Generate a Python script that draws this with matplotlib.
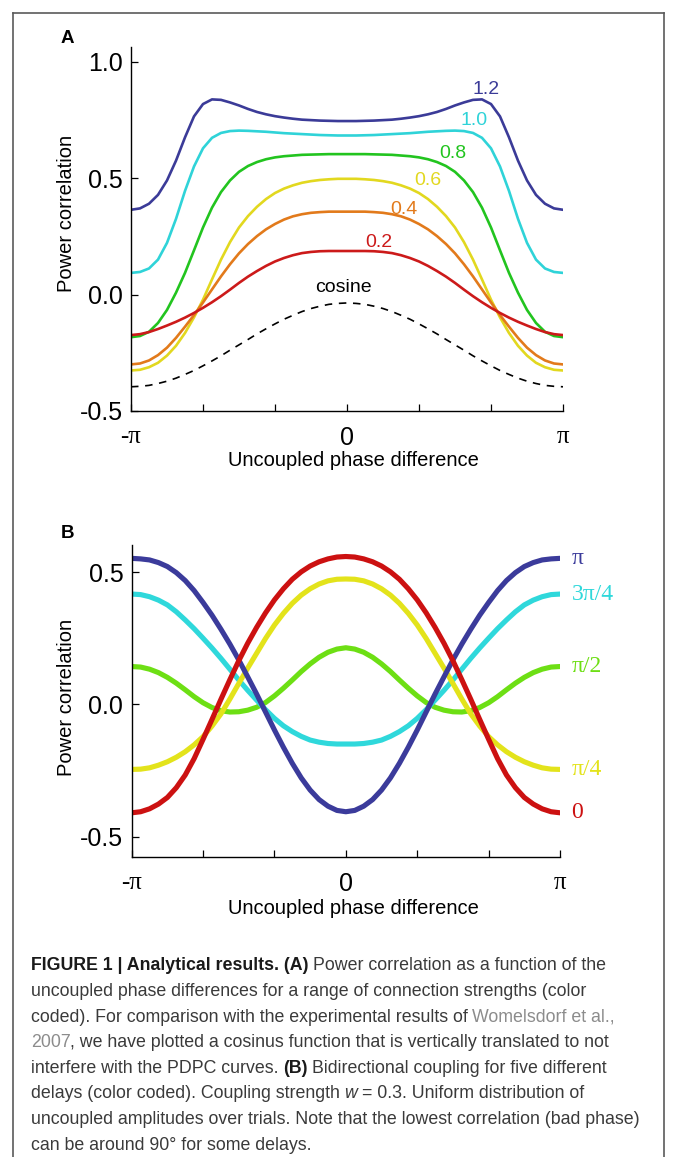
import numpy as np
import matplotlib
matplotlib.use("Agg")
import matplotlib.pyplot as plt
from matplotlib import font_manager as fm
from matplotlib.lines import Line2D
from matplotlib.transforms import offset_copy

W, H, DPI = 673, 1157, 100

# ---------------- data ----------------
phase = np.linspace(-np.pi, np.pi, 49)   # sample positions, -pi .. pi in pi/24 steps

# Panel A: power correlation for different connection strengths
strength_labels = ["1.2", "1.0", "0.8", "0.6", "0.4", "0.2"]
pc_w12 = [0.364, 0.370, 0.390, 0.428, 0.490, 0.575, 0.675, 0.765, 0.818, 0.838, 0.836, 0.825, 0.812,
          0.797, 0.784, 0.774, 0.766, 0.760, 0.755, 0.751, 0.749, 0.747, 0.746, 0.745, 0.745,
          0.745, 0.746, 0.747, 0.749, 0.751, 0.755, 0.760, 0.766, 0.774, 0.784, 0.797, 0.812,
          0.825, 0.836, 0.838, 0.818, 0.765, 0.675, 0.575, 0.490, 0.428, 0.390, 0.370, 0.364]
pc_w10 = [0.093, 0.097, 0.112, 0.150, 0.222, 0.325, 0.445, 0.550, 0.628, 0.673, 0.694, 0.702, 0.704,
          0.703, 0.701, 0.699, 0.696, 0.693, 0.691, 0.689, 0.687, 0.685, 0.684, 0.683, 0.683,
          0.683, 0.684, 0.685, 0.687, 0.689, 0.691, 0.693, 0.696, 0.699, 0.701, 0.703, 0.704,
          0.702, 0.694, 0.673, 0.628, 0.550, 0.445, 0.325, 0.222, 0.150, 0.112, 0.097, 0.093]
pc_w08 = [-0.183, -0.178, -0.160, -0.122, -0.066, 0.008, 0.093, 0.190, 0.288, 0.373, 0.440, 0.490, 0.527,
          0.552, 0.569, 0.581, 0.589, 0.594, 0.597, 0.600, 0.601, 0.602, 0.603, 0.603, 0.603,
          0.603, 0.603, 0.602, 0.601, 0.600, 0.597, 0.594, 0.589, 0.581, 0.569, 0.552, 0.527,
          0.490, 0.440, 0.373, 0.288, 0.190, 0.093, 0.008, -0.066, -0.122, -0.160, -0.178, -0.183]
pc_w06 = [-0.326, -0.323, -0.312, -0.293, -0.262, -0.220, -0.165, -0.098, -0.022, 0.065, 0.150, 0.225, 0.288,
          0.337, 0.377, 0.410, 0.436, 0.455, 0.469, 0.480, 0.487, 0.492, 0.495, 0.497, 0.497,
          0.497, 0.495, 0.492, 0.487, 0.480, 0.469, 0.455, 0.436, 0.410, 0.377, 0.337, 0.288,
          0.225, 0.150, 0.065, -0.022, -0.098, -0.165, -0.220, -0.262, -0.293, -0.312, -0.323, -0.326]
pc_w04 = [-0.300, -0.296, -0.283, -0.260, -0.228, -0.186, -0.138, -0.088, -0.034, 0.022, 0.078, 0.130, 0.177,
          0.217, 0.251, 0.280, 0.303, 0.322, 0.336, 0.345, 0.351, 0.354, 0.356, 0.356, 0.356,
          0.356, 0.356, 0.354, 0.351, 0.345, 0.336, 0.322, 0.303, 0.280, 0.251, 0.217, 0.177,
          0.130, 0.078, 0.022, -0.034, -0.088, -0.138, -0.186, -0.228, -0.260, -0.283, -0.296, -0.300]
pc_w02 = [-0.174, -0.170, -0.161, -0.148, -0.133, -0.117, -0.099, -0.079, -0.057, -0.033, -0.007, 0.021, 0.050,
          0.077, 0.101, 0.123, 0.142, 0.157, 0.169, 0.178, 0.183, 0.186, 0.187, 0.187, 0.187,
          0.187, 0.187, 0.186, 0.183, 0.178, 0.169, 0.157, 0.142, 0.123, 0.101, 0.077, 0.050,
          0.021, -0.007, -0.033, -0.057, -0.079, -0.099, -0.117, -0.133, -0.148, -0.161, -0.170, -0.174]
cosine_ref = [-0.396, -0.394, -0.390, -0.382, -0.372, -0.359, -0.343, -0.326, -0.306, -0.285, -0.263, -0.239, -0.216,
              -0.193, -0.169, -0.147, -0.126, -0.106, -0.089, -0.073, -0.060, -0.050, -0.042, -0.038, -0.036,
              -0.038, -0.042, -0.050, -0.060, -0.073, -0.089, -0.106, -0.126, -0.147, -0.169, -0.193, -0.216,
              -0.239, -0.263, -0.285, -0.306, -0.326, -0.343, -0.359, -0.372, -0.382, -0.390, -0.394, -0.396]

# Panel B: bidirectional coupling for different delays
delay_labels = ["π", "3π/4", "π/2", "π/4", "0"]
pc_d_pi = [0.552, 0.550, 0.546, 0.536, 0.521, 0.498, 0.468, 0.430, 0.385, 0.337, 0.284, 0.228, 0.168,
           0.104, 0.039, -0.029, -0.097, -0.162, -0.223, -0.278, -0.324, -0.360, -0.385, -0.401, -0.406,
           -0.401, -0.385, -0.360, -0.324, -0.278, -0.223, -0.162, -0.097, -0.029, 0.039, 0.104, 0.168,
           0.228, 0.284, 0.337, 0.385, 0.430, 0.468, 0.498, 0.521, 0.536, 0.546, 0.550, 0.552]
pc_d_3pi4 = [0.417, 0.415, 0.407, 0.394, 0.376, 0.350, 0.319, 0.286, 0.250, 0.213, 0.174, 0.133, 0.092,
             0.053, 0.016, -0.020, -0.053, -0.081, -0.103, -0.121, -0.135, -0.143, -0.148, -0.150, -0.150,
             -0.150, -0.148, -0.143, -0.135, -0.121, -0.103, -0.081, -0.053, -0.020, 0.016, 0.053, 0.092,
             0.133, 0.174, 0.213, 0.250, 0.286, 0.319, 0.350, 0.376, 0.394, 0.407, 0.415, 0.417]
pc_d_pi2 = [0.143, 0.141, 0.133, 0.120, 0.102, 0.080, 0.055, 0.029, 0.006, -0.012, -0.024, -0.029, -0.028,
            -0.022, -0.011, 0.007, 0.032, 0.061, 0.092, 0.124, 0.153, 0.178, 0.197, 0.209, 0.214,
            0.209, 0.197, 0.178, 0.153, 0.124, 0.092, 0.061, 0.032, 0.007, -0.011, -0.022, -0.028,
            -0.029, -0.024, -0.012, 0.006, 0.029, 0.055, 0.080, 0.102, 0.120, 0.133, 0.141, 0.143]
pc_d_pi4 = [-0.246, -0.245, -0.240, -0.230, -0.217, -0.200, -0.179, -0.153, -0.122, -0.082, -0.036, 0.020, 0.079,
            0.137, 0.193, 0.249, 0.300, 0.344, 0.382, 0.413, 0.437, 0.455, 0.467, 0.473, 0.474,
            0.473, 0.467, 0.455, 0.437, 0.413, 0.382, 0.344, 0.300, 0.249, 0.193, 0.137, 0.079,
            0.020, -0.036, -0.082, -0.122, -0.153, -0.179, -0.200, -0.217, -0.230, -0.240, -0.245, -0.246]
pc_d_0 = [-0.410, -0.406, -0.395, -0.377, -0.352, -0.315, -0.267, -0.205, -0.132, -0.057, 0.019, 0.093, 0.165,
          0.231, 0.291, 0.346, 0.395, 0.437, 0.473, 0.501, 0.523, 0.539, 0.550, 0.557, 0.559,
          0.557, 0.550, 0.539, 0.523, 0.501, 0.473, 0.437, 0.395, 0.346, 0.291, 0.231, 0.165,
          0.093, 0.019, -0.057, -0.132, -0.205, -0.267, -0.315, -0.352, -0.377, -0.395, -0.406, -0.410]

x_tick_labels = ["-π", "", "", "0", "", "", "π"]
yticks_A = [-0.5, 0.0, 0.5, 1.0]
yticks_B = [-0.5, 0.0, 0.5]

# ---------------- style ----------------
SANS = "Liberation Sans"
SERIF = "Liberation Serif"
colors_A = ["#3b3b98", "#2fd3d8", "#22c41f", "#e2d81f", "#e27a1b", "#cc1a1a"]
colors_B = ["#3b3b9b", "#2fd8db", "#6ddf14", "#e3e31b", "#cc1111"]

plt.rcParams["font.family"] = [SANS, "DejaVu Sans"]

fig = plt.figure(figsize=(W / DPI, H / DPI), dpi=DPI)
fig.patch.set_facecolor("white")


def axes_px(left, top, right, bottom):
    return fig.add_axes([left / W, 1 - bottom / H, (right - left) / W, (bottom - top) / H])


def style_axes(ax, yticks, ylim):
    ax.set_xlim(-np.pi, np.pi)
    ax.set_ylim(*ylim)
    for s in ("top", "right"):
        ax.spines[s].set_visible(False)
    for s in ("left", "bottom"):
        ax.spines[s].set_linewidth(1.0)
    ax.set_xticks(np.arange(-3, 4) * np.pi / 3)
    ax.set_xticklabels(x_tick_labels)
    ax.set_yticks(yticks)
    ax.set_yticklabels([f"{v:.1f}" for v in yticks])
    ax.tick_params(direction="in", length=5, width=0.9, labelsize=18)
    ax.tick_params(axis="y", pad=6)
    ax.tick_params(axis="x", pad=11)
    for lbl in ax.get_xticklabels():
        if "π" in lbl.get_text():
            lbl.set_fontfamily(SERIF)


# ---------- Panel A ----------
axA = axes_px(131, 47, 563, 411)
series_A = [pc_w12, pc_w10, pc_w08, pc_w06, pc_w04, pc_w02]
for vals, c in zip(series_A, colors_A):
    axA.plot(phase, vals, color=c, lw=1.9, solid_capstyle="round", solid_joinstyle="round")
axA.plot(phase, cosine_ref, color="black", lw=1.2, dashes=(4.5, 4))
style_axes(axA, yticks_A, (-0.5, 1.063))

label_pos_A = [(2.017, 0.879), (1.852, 0.747), (1.546, 0.604), (1.174, 0.489), (0.829, 0.367), (0.461, 0.222)]
for lab, (lx, ly), c in zip(strength_labels, label_pos_A, colors_A):
    axA.text(lx, ly, lab, color=c, fontsize=14, ha="center", va="center")
axA.text(-0.058, 0.029, "cosine", color="black", fontsize=14, ha="center", va="center")

# ---------- Panel B ----------
axB = axes_px(131.7, 545, 560, 856.7)
series_B = [pc_d_pi, pc_d_3pi4, pc_d_pi2, pc_d_pi4, pc_d_0]
draw_order = [2, 1, 3, 0, 4]
for i in draw_order:
    axB.plot(phase, series_B[i], color=colors_B[i], lw=3.7, solid_capstyle="round", solid_joinstyle="round")
style_axes(axB, yticks_B, (-0.576, 0.6025))
lab_tr = offset_copy(axB.transData, fig=fig, x=11.5, y=0, units="dots")
for lab, vals, c in zip(delay_labels, series_B, colors_B):
    axB.text(phase[-1], vals[-1], lab, color=c, fontsize=17, family=SERIF,
             ha="left", va="center", transform=lab_tr, clip_on=False)

# ---------- axis labels ----------
def ftext(x, y, s, **kw):
    return fig.text(x / W, 1 - y / H, s, **kw)

ftext(67, 38.5, "A", fontsize=13.5, fontweight="bold", ha="center", va="center")
ftext(67, 533, "B", fontsize=13.5, fontweight="bold", ha="center", va="center")
ftext(66.7, 213, "Power correlation", fontsize=14.5, rotation=90, ha="center", va="center")
ftext(66.7, 697, "Power correlation", fontsize=14.5, rotation=90, ha="center", va="center")
ftext(353, 461, "Uncoupled phase difference", fontsize=14.5, ha="center", va="center")
ftext(353, 908, "Uncoupled phase difference", fontsize=14.5, ha="center", va="center")

# ---------- frame ----------
frame_c = "#5a5a5a"
for xs, ys in [((13, 13), (13, 1157)), ((664, 664), (13, 1157)), ((13, 664), (13, 13))]:
    fig.add_artist(Line2D([x / W for x in xs], [1 - y / H for y in ys], color=frame_c, lw=1.2,
                          transform=fig.transFigure))

# ---------- caption ----------
def font_available(name):
    try:
        fm.findfont(fm.FontProperties(family=name), fallback_to_default=False)
        return True
    except Exception:
        return False

cap_family = "Liberation Sans Narrow" if font_available("Liberation Sans Narrow") else SANS

caption_lines = [
    [("FIGURE 1 | Analytical results. (A)", "b", False), ("Power correlation as a function of the", "n", True)],
    [("uncoupled phase differences for a range of connection strengths (color", "n", False)],
    [("coded). For comparison with the experimental results of", "n", False), ("Womelsdorf et al.,", "g", True)],
    [("2007", "g", False), (", we have plotted a cosinus function that is vertically translated to not", "n", False)],
    [("interfere with the PDPC curves.", "n", False), ("(B)", "b", True), ("Bidirectional coupling for five different", "n", True)],
    [("delays (color coded). Coupling strength", "n", False), ("w", "i", True), ("= 0.3. Uniform distribution of", "n", True)],
    [("uncoupled amplitudes over trials. Note that the lowest correlation (bad phase)", "n", False)],
    [("can be around 90° for some delays.", "n", False)],
]
styles = {
    "n": dict(color="#3a3a3a"),
    "b": dict(color="#1a1a1a", fontweight="bold"),
    "g": dict(color="#8c8c8c"),
    "i": dict(color="#3a3a3a", fontstyle="italic"),
}

fig.canvas.draw()
renderer = fig.canvas.get_renderer()


def measure(s, fs, st):
    t = fig.text(0, 0, s, fontsize=fs, family=cap_family, **styles[st])
    w = t.get_window_extent(renderer).width
    t.remove()
    return w


def space_w(fs, st):
    return measure("x x", fs, st) - measure("xx", fs, st)


def line_width(runs, fs):
    tot = 0
    for s, st, sp in runs:
        if sp:
            tot += space_w(fs, "n")
        tot += measure(s, fs, st)
    return tot

fs0 = 12.0
target = 604.3 - 30.7
cap_fs = fs0 * target / line_width(caption_lines[0], fs0)
cap_fs = min(cap_fs, 13.5)

x0 = 30.7
base0 = 970.5
step = 25.6
for i, runs in enumerate(caption_lines):
    x = x0
    yb = base0 + i * step
    for s, st, sp in runs:
        if sp:
            x += space_w(cap_fs, "n")
        t = fig.text(x / W, 1 - yb / H, s, fontsize=cap_fs, family=cap_family, va="baseline", **styles[st])
        x = t.get_window_extent(renderer).x1

fig.savefig("out.png", dpi=DPI, facecolor="white")
